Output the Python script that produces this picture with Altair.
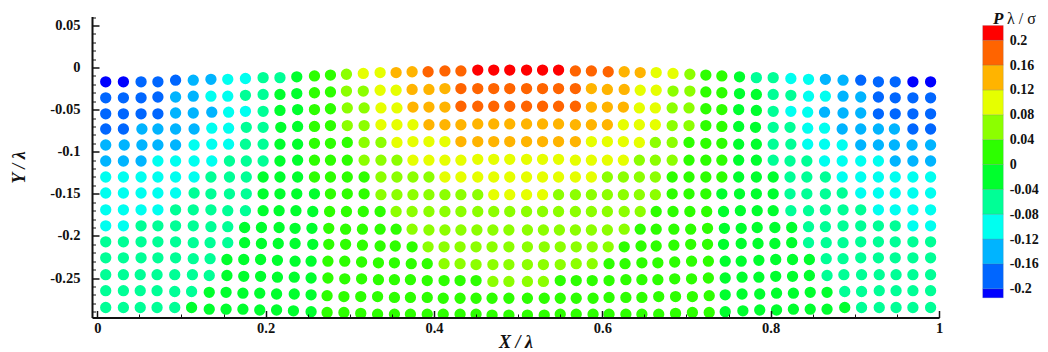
import altair as alt
import pandas as pd

FONT = "Liberation Serif"
INK = "#111111"

# Particle columns, in thousandths of X/lambda, one list per row of particles (surface first)
X_MILLI = [
 [10,31,52,72,93,114,135,155,176,197,217,237,258,277,296,316,336,355,374,393,413,432,452,471,490,510,529,548,568,587,607,626,645,664,684,704,723,742,763,783,803,824,845,865,886,907,928,948,969,990],
 [10,31,52,72,93,114,135,155,176,197,217,237,258,277,296,316,336,355,374,394,413,432,452,471,490,510,529,548,568,587,606,626,645,664,684,704,723,742,763,783,803,824,845,865,886,907,928,948,969,990],
 [10,31,52,72,93,114,136,156,176,197,217,238,258,277,297,317,337,356,375,394,413,432,452,471,490,510,529,548,568,587,606,625,644,663,683,703,723,742,762,783,803,824,844,864,886,907,928,948,969,990],
 [10,31,53,72,93,115,136,156,177,197,218,238,258,277,297,317,337,356,375,394,413,432,452,471,490,510,529,548,568,587,606,625,644,663,683,703,723,742,762,782,803,823,844,864,885,907,928,947,969,990],
 [10,32,53,72,93,115,136,156,176,197,217,238,258,277,297,317,337,356,375,394,413,432,452,471,490,510,529,548,568,587,606,625,644,663,683,703,723,742,762,783,803,824,844,864,885,907,928,947,968,990],
 [10,31,52,72,93,115,136,157,177,197,217,238,258,277,297,317,337,356,375,394,413,432,452,471,490,510,529,548,568,587,606,625,644,663,683,703,723,742,762,783,803,823,843,864,885,907,928,948,969,990],
 [10,31,52,72,93,115,135,157,177,197,217,238,258,277,297,317,337,356,375,394,413,432,452,471,490,510,529,548,568,587,606,625,644,663,683,703,723,742,762,783,803,823,843,865,885,907,928,948,969,990],
 [10,31,52,72,93,115,135,157,177,197,217,237,258,277,297,317,337,356,375,394,413,432,452,471,490,510,529,548,568,587,606,625,644,663,683,703,723,742,763,783,803,823,843,865,885,907,928,948,969,990],
 [10,31,52,72,93,114,135,155,176,197,216,236,256,276,296,316,336,355,374,394,413,432,452,471,490,510,529,548,568,587,606,626,645,664,684,704,724,744,764,784,803,824,845,865,886,907,928,948,969,990],
 [10,31,52,72,93,114,135,155,175,195,216,235,255,275,295,315,336,355,374,394,413,432,451,470,489,511,530,549,568,587,606,626,645,664,685,705,725,745,765,784,805,825,845,865,886,907,928,948,969,990],
 [10,31,52,72,93,114,134,155,175,195,215,235,256,275,295,315,336,354,374,393,412,431,450,469,489,511,531,550,569,588,607,626,646,664,685,705,725,744,765,785,805,825,845,866,886,907,928,948,969,990],
 [10,31,52,72,93,114,134,154,174,194,214,235,254,274,294,314,334,353,373,392,412,431,450,470,489,511,530,550,569,588,608,627,647,666,686,706,726,746,765,786,806,826,846,866,886,907,928,948,969,990],
 [10,31,51,71,92,113,133,154,174,194,214,234,254,274,294,314,334,353,372,392,412,431,450,470,489,511,530,550,569,588,608,628,647,666,686,706,726,746,766,786,806,826,846,867,887,908,929,949,969,990],
 [10,31,51,71,92,112,133,153,173,193,213,234,254,273,293,313,333,353,372,392,411,431,450,469,489,511,531,550,569,589,608,628,647,667,687,707,727,746,766,787,807,827,847,867,888,908,929,949,969,990],
 [10,31,51,71,92,112,133,153,173,193,213,233,254,273,293,313,333,353,372,392,411,431,450,469,489,511,531,550,569,589,608,628,647,667,687,707,727,746,767,787,807,827,847,867,888,908,929,949,969,990],
]

# Particle depth below Y/lambda = 0, in thousandths
DEPTH_MILLI = [
 [17,17,17,17,15,15,14,14,13,12,12,11,10,9,8,7,6,6,5,5,4,4,3,3,3,3,3,3,4,4,5,5,6,6,7,8,9,10,11,12,12,13,14,14,15,15,17,17,17,17],
 [36,36,36,35,35,34,34,34,33,32,32,31,30,29,28,28,27,27,26,26,25,25,25,25,25,25,25,25,25,25,26,26,27,27,28,28,29,30,31,32,32,33,34,34,34,35,35,36,36,36],
 [55,55,55,55,54,54,53,53,52,52,51,50,50,49,48,48,48,48,47,47,47,46,46,46,46,46,46,46,46,47,47,47,48,48,48,48,49,50,50,51,52,52,53,53,54,54,55,55,55,55],
 [73,73,73,73,73,73,72,72,71,71,71,70,70,69,69,69,68,68,68,68,68,68,67,67,67,67,67,67,68,68,68,68,68,68,69,69,69,70,70,71,71,71,72,72,73,73,73,73,73,73],
 [92,92,92,92,92,92,91,91,91,91,91,91,90,90,89,89,89,89,88,88,88,88,88,88,88,88,88,88,88,88,88,88,89,89,89,89,90,90,91,91,91,91,91,91,92,92,92,92,92,92],
 [111,111,111,111,111,111,111,111,111,111,111,110,110,110,110,110,110,110,110,110,110,110,109,109,109,109,109,109,110,110,110,110,110,110,110,110,110,110,110,110,110,111,111,111,111,111,111,111,111,111],
 [130,130,130,130,130,130,130,130,130,130,130,130,130,130,130,130,130,130,130,130,130,130,130,130,130,130,130,130,130,130,130,130,130,130,130,130,130,130,130,130,130,130,130,130,130,130,130,130,130,130],
 [149,149,149,149,149,149,150,150,150,150,150,150,150,150,150,150,151,151,151,151,151,151,151,151,151,151,151,151,151,151,151,151,151,151,150,150,150,150,150,150,150,150,150,150,149,149,149,149,149,149],
 [169,169,169,169,169,169,169,170,170,170,170,170,171,171,171,171,171,171,171,171,171,171,171,171,171,171,171,171,171,171,171,171,171,171,171,171,171,171,170,170,170,170,170,169,169,169,169,169,169,169],
 [188,188,188,188,188,188,189,189,190,190,190,191,191,191,192,192,192,192,192,193,193,193,193,193,193,193,193,193,193,193,193,192,192,192,192,192,191,191,191,190,190,190,189,189,188,188,188,188,188,188],
 [207,207,207,207,207,208,208,208,208,209,209,209,210,210,210,211,212,212,213,213,213,213,213,213,213,213,213,213,213,213,213,213,212,212,211,210,210,210,209,209,209,208,208,208,208,207,207,207,207,207],
 [226,226,226,226,226,227,227,228,228,228,229,230,230,230,230,231,232,232,233,233,233,233,234,234,234,234,234,234,233,233,233,233,232,232,231,230,230,230,230,229,228,228,228,227,227,226,226,226,226,226],
 [246,246,246,246,246,246,247,247,248,248,249,249,250,250,251,251,252,252,252,253,253,253,253,254,254,254,254,253,253,253,253,252,252,252,251,251,250,250,249,249,248,248,247,247,246,246,246,246,246,246],
 [265,265,265,265,266,266,267,267,268,268,269,269,270,271,272,272,272,273,273,273,274,274,274,274,274,274,274,274,274,274,273,273,273,272,272,272,271,270,269,269,268,268,267,267,266,266,265,265,265,265],
 [285,285,285,285,285,285,287,287,287,288,288,289,290,291,291,292,293,293,293,293,293,293,293,294,294,294,294,293,293,293,293,293,293,293,292,291,291,290,289,288,288,287,287,287,285,285,285,285,285,285],
]

# Contour band of every particle, one letter per particle
BAND_ROWS = [
 "aabbbccddeefgghiijjkkkllllllkkkjjiihggfeeddccbbbaa",
 "bbbbccddeeffgghhiijjjkkkkkkkkjjjiihhggffeeddccbbbb",
 "bbbbcccddeffgghhiijjjkkkkkkkkjjjiihhggffeddcccbbbb",
 "bbccccddeeffgghhiiijjjjjjjjjjjjiiihhggffeeddccccbb",
 "cccccdddeeffggghhiiiijjjjjjjjiiiihhgggffeedddccccc",
 "cccddddeeeffggghhhiiiiiiiiiiiiiihhhgggffeeeddddccc",
 "ddddddeeefffgggghhhhiiiiiiiiiihhhhggggfffeeedddddd",
 "dddddeeeeffffggghhhhhhhiiiihhhhhhhgggffffeeeeddddd",
 "ddddeeeeeffffgggghhhhhhhhhhhhhhhhggggffffeeeeedddd",
 "ddeeeeeefffffggggghhhhhhhhhhhhhhgggggfffffeeeeeedd",
 "eeeeeeeefffffgggggghhhhhhhhhhhhggggggfffffeeeeeeee",
 "eeeeeeeffffffggggggghhhhhhhhhhgggggggffffffeeeeeee",
 "eeeeeeeffffffgggggggggghhhhggggggggggffffffeeeeeee",
 "eeeeeefffffffggggggggggggggggggggggggfffffffeeeeee",
 "eeeeeffffffffggggggggggggggggggggggggffffffffeeeee",
]

BAND_LETTERS = list("abcdefghijkl")
BAND_P = [-0.21, -0.18, -0.14, -0.10, -0.06, -0.02, 0.02, 0.06, 0.10, 0.14, 0.18, 0.21]
BAND_LOW = [-0.2145, -0.2, -0.16, -0.12, -0.08, -0.04, 0, 0.04, 0.08, 0.12, 0.16, 0.2]
BAND_HIGH = [-0.2, -0.16, -0.12, -0.08, -0.04, 0, 0.04, 0.08, 0.12, 0.16, 0.2, 0.2236]
THRESHOLDS = [-0.2, -0.16, -0.12, -0.08, -0.04, 0, 0.04, 0.08, 0.12, 0.16, 0.2]
COLORS = ["#0000ff", "#0066ff", "#00b4ff", "#00fff0", "#00ff96", "#00ff2d",
          "#2dff00", "#8cff00", "#e6ff00", "#ffb400", "#ff6400", "#ff0000"]

X_MAJOR = [0, 0.2, 0.4, 0.6, 0.8, 1]
X_MINOR = [0.05, 0.1, 0.15, 0.25, 0.3, 0.35, 0.45, 0.5, 0.55, 0.65, 0.7, 0.75, 0.85, 0.9, 0.95]
Y_MAJOR = [0.05, 0, -0.05, -0.1, -0.15, -0.2, -0.25]
Y_MINOR = [0.06, 0.04, 0.03, 0.02, 0.01, -0.01, -0.02, -0.03, -0.04, -0.06, -0.07, -0.08, -0.09,
           -0.11, -0.12, -0.13, -0.14, -0.16, -0.17, -0.18, -0.19, -0.21, -0.22, -0.23, -0.24,
           -0.26, -0.27, -0.28, -0.29]
LEGEND_TICKS = [0.2, 0.16, 0.12, 0.08, 0.04, 0, -0.04, -0.08, -0.12, -0.16, -0.2]

X_DOMAIN = [-0.0063, 1.0]
Y_DOMAIN = [-0.2969, 0.0606]
LEGEND_DOMAIN = [-0.2462, 0.2381]
WIDTH, HEIGHT = 847, 301

p_of_band = dict(zip(BAND_LETTERS, BAND_P))
records = []
for xs, ds, bands in zip(X_MILLI, DEPTH_MILLI, BAND_ROWS):
    assert len(xs) == len(ds) == len(bands) == 50
    for x, d, b in zip(xs, ds, bands):
        records.append({"x": x / 1000, "y": -d / 1000, "p": p_of_band[b]})
points = pd.DataFrame(records)
bands_df = pd.DataFrame({"low": BAND_LOW, "high": BAND_HIGH, "p": BAND_P})

x_scale = alt.Scale(domain=X_DOMAIN, nice=False, zero=False)
y_scale = alt.Scale(domain=Y_DOMAIN, nice=False, zero=False)
color_scale = alt.Scale(type="threshold", domain=THRESHOLDS, range=COLORS)
VALUE_LABEL = "'' + datum.value"

circles = alt.Chart(points).mark_circle(size=128, opacity=1, clip=True).encode(
    x=alt.X("x:Q", scale=x_scale, axis=alt.Axis(
        values=X_MAJOR, labelExpr=VALUE_LABEL, title="X / λ", grid=False,
        ticks=False, domainColor=INK, domainWidth=2, zindex=1,
        labelFont=FONT, labelFontWeight="bold", labelFontSize=14.5, labelColor=INK,
        labelPadding=4, labelFlush=False, labelOverlap=False,
        titleFont=FONT, titleFontWeight="bold", titleFontStyle="italic",
        titleFontSize=18, titleColor=INK, titlePadding=-2)),
    y=alt.Y("y:Q", scale=y_scale, axis=alt.Axis(
        values=Y_MAJOR, labelExpr=VALUE_LABEL, title="Y / λ", grid=False,
        ticks=False, domainColor=INK, domainWidth=2, zindex=1,
        labelFont=FONT, labelFontWeight="bold", labelFontSize=14.5, labelColor=INK,
        labelPadding=12, labelFlush=False, labelOverlap=False,
        titleFont=FONT, titleFontWeight="bold", titleFontStyle="italic",
        titleFontSize=18, titleColor=INK, titlePadding=21)),
    color=alt.Color("p:Q", scale=color_scale, legend=None),
)


def tick_layer(x_values, y_values, length, width):
    """An invisible mark that only carries inward-pointing tick axes."""
    carrier = pd.DataFrame({"x": [x_values[0]], "y": [y_values[0]]})
    return alt.Chart(carrier).mark_point(opacity=0).encode(
        x=alt.X("x:Q", scale=x_scale, axis=alt.Axis(
            orient="top", offset=-HEIGHT, values=x_values, labels=False, domain=False,
            grid=False, title=None, tickSize=length, tickWidth=width, tickColor=INK, zindex=1)),
        y=alt.Y("y:Q", scale=y_scale, axis=alt.Axis(
            orient="right", offset=-WIDTH, values=y_values, labels=False, domain=False,
            grid=False, title=None, tickSize=length, tickWidth=width, tickColor=INK, zindex=1)),
    )


legend_bar = alt.Chart(bands_df).mark_rect(stroke="#556677", strokeWidth=0.4, strokeOpacity=0.5).encode(
    x=alt.value(890.7),
    x2=alt.value(911.3),
    y=alt.Y("high:Q", scale=alt.Scale(domain=LEGEND_DOMAIN, nice=False, zero=False), axis=alt.Axis(
        orient="right", offset=64.7, values=LEGEND_TICKS,
        labelExpr="(datum.value >= 0 ? '\u2004' : '') + datum.value",
        domain=False, ticks=False, grid=False, title=None, labelPadding=5.5,
        labelFont=FONT, labelFontWeight="bold", labelFontSize=14, labelColor=INK,
        labelFlush=False, labelOverlap=False)),
    y2="low:Q",
    color=alt.Color("p:Q", scale=color_scale, legend=None),
)

legend_p = alt.Chart(pd.DataFrame({"t": ["P"]})).mark_text(
    font=FONT, fontWeight="bold", fontStyle="italic", fontSize=17, align="left", color=INK
).encode(text="t:N", x=alt.value(901), y=alt.value(2))
legend_rest = alt.Chart(pd.DataFrame({"t": ["λ / σ"]})).mark_text(
    font=FONT, fontSize=16, align="left", color=INK
).encode(text="t:N", x=alt.value(915), y=alt.value(2))

chart = alt.layer(
    circles,
    tick_layer(X_MAJOR, Y_MAJOR, 7, 1.5),
    tick_layer(X_MINOR, Y_MINOR, 3.5, 1),
    legend_bar,
    legend_p,
    legend_rest,
).resolve_scale(y="independent", x="shared", color="shared").resolve_axis(
    x="independent", y="independent"
).properties(
    width=WIDTH, height=HEIGHT,
    padding={"left": 2, "top": 1.5, "right": 0, "bottom": 0},
).configure_view(stroke=None)

chart.save("out.html", embed_options={"renderer": "svg", "actions": False})
